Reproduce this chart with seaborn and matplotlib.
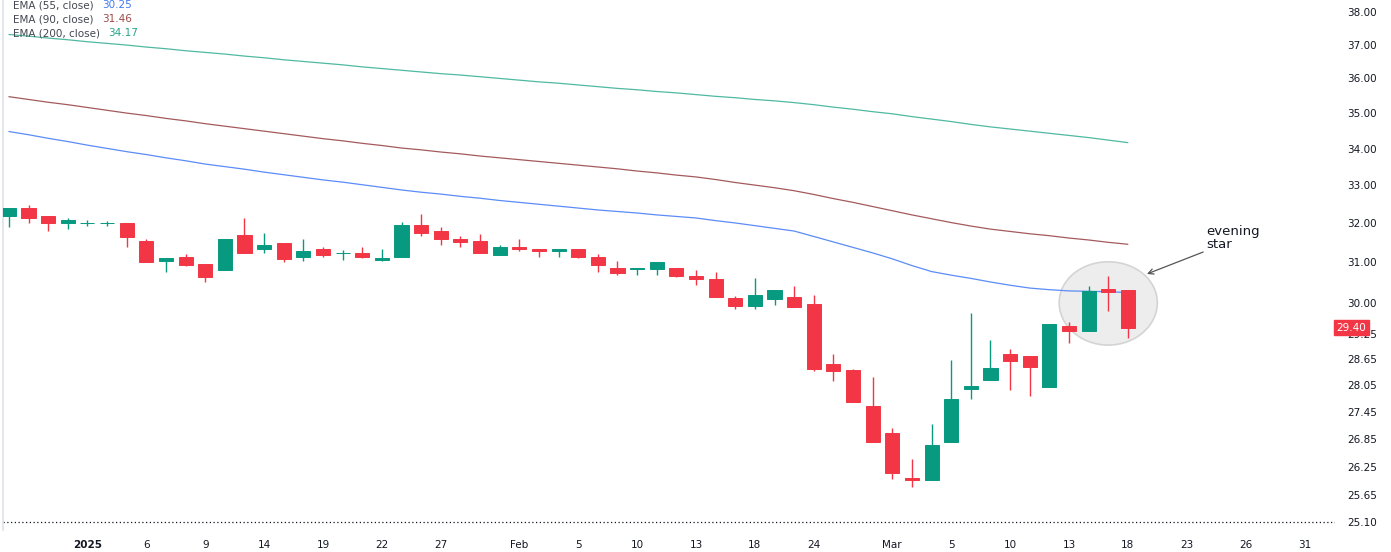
import pandas as pd
import seaborn as sns
import matplotlib.pyplot as plt
from matplotlib.patches import Ellipse
from matplotlib.ticker import FixedLocator, NullLocator, FuncFormatter

# trading days (Sun-Thu market)
dates = ["2024-12-26", "2024-12-29", "2024-12-30", "2024-12-31", "2025-01-01", "2025-01-02",
         "2025-01-05", "2025-01-06", "2025-01-07", "2025-01-08", "2025-01-09",
         "2025-01-12", "2025-01-13", "2025-01-14", "2025-01-15", "2025-01-16",
         "2025-01-19", "2025-01-20", "2025-01-21", "2025-01-22", "2025-01-23",
         "2025-01-26", "2025-01-27", "2025-01-28", "2025-01-29", "2025-01-30",
         "2025-02-02", "2025-02-03", "2025-02-04", "2025-02-05", "2025-02-06",
         "2025-02-09", "2025-02-10", "2025-02-11", "2025-02-12", "2025-02-13",
         "2025-02-16", "2025-02-17", "2025-02-18", "2025-02-19", "2025-02-20",
         "2025-02-24", "2025-02-25", "2025-02-26", "2025-02-27",
         "2025-03-02", "2025-03-03", "2025-03-04", "2025-03-05", "2025-03-06",
         "2025-03-09", "2025-03-10", "2025-03-11", "2025-03-12", "2025-03-13",
         "2025-03-16", "2025-03-17", "2025-03-18"]
future_dates = ["2025-03-19", "2025-03-20", "2025-03-23", "2025-03-24", "2025-03-25",
                "2025-03-26", "2025-03-27", "2025-03-30", "2025-03-31"]

opens = [32.19, 32.40, 32.19, 32.00, 32.00, 32.00, 32.00, 31.55, 31.03, 31.14,
         30.95, 30.80, 31.70, 31.33, 31.50, 31.14, 31.34, 31.24, 31.25, 31.07,
         31.13, 31.96, 31.80, 31.60, 31.55, 31.19, 31.40, 31.34, 31.29, 31.34,
         31.14, 30.85, 30.84, 30.83, 30.85, 30.65, 30.59, 30.12, 29.93, 30.08,
         30.13, 29.98, 28.54, 28.41, 27.59, 26.98, 26.02, 25.97, 26.78, 27.97,
         28.17, 28.78, 28.73, 28.02, 29.44, 29.33, 30.34, 30.30]
highs = [32.41, 32.47, 32.20, 32.14, 32.09, 32.07, 32.00, 31.59, 31.10, 31.20,
         30.96, 31.60, 32.13, 31.74, 31.50, 31.60, 31.38, 31.31, 31.38, 31.33,
         32.03, 32.25, 31.91, 31.66, 31.72, 31.44, 31.60, 31.34, 31.34, 31.34,
         31.20, 31.04, 30.87, 31.00, 30.85, 30.82, 30.76, 30.17, 30.61, 30.30,
         30.40, 30.19, 28.78, 28.43, 28.24, 27.09, 26.43, 27.18, 28.64, 29.75,
         29.10, 28.89, 28.73, 29.48, 29.54, 30.41, 30.65, 30.30]
lows = [31.91, 32.00, 31.80, 31.85, 31.93, 31.92, 31.40, 31.00, 30.75, 30.90,
        30.50, 30.80, 31.23, 31.24, 31.00, 31.04, 31.14, 31.06, 31.10, 31.04,
        31.13, 31.66, 31.45, 31.40, 31.23, 31.19, 31.30, 31.14, 31.14, 31.10,
        30.75, 30.69, 30.69, 30.69, 30.63, 30.43, 30.13, 29.85, 29.85, 29.94,
        29.89, 28.39, 28.14, 27.68, 26.78, 25.99, 25.83, 25.97, 26.78, 27.74,
        28.17, 27.95, 27.80, 28.02, 29.04, 29.33, 29.79, 29.15]
closes = [32.40, 32.13, 32.00, 32.09, 32.01, 32.01, 31.64, 31.00, 31.10, 30.94,
          30.63, 31.60, 31.23, 31.44, 31.08, 31.30, 31.19, 31.25, 31.13, 31.12,
          31.96, 31.74, 31.59, 31.53, 31.23, 31.40, 31.33, 31.29, 31.34, 31.13,
          30.94, 30.74, 30.85, 31.00, 30.67, 30.58, 30.13, 29.93, 30.19, 30.30,
          29.89, 28.42, 28.39, 27.68, 26.78, 26.12, 25.97, 26.72, 27.74, 28.04,
          28.45, 28.62, 28.47, 29.48, 29.33, 30.29, 30.27, 29.40]

ema55 = [34.48, 34.39, 34.29, 34.20, 34.10, 34.01, 33.92, 33.84, 33.75, 33.67,
         33.58, 33.51, 33.44, 33.36, 33.29, 33.22, 33.15, 33.09, 33.02, 32.95,
         32.88, 32.82, 32.77, 32.71, 32.66, 32.60, 32.55, 32.50, 32.45, 32.40,
         32.35, 32.31, 32.27, 32.22, 32.18, 32.14, 32.07, 32.01, 31.94, 31.87,
         31.80, 31.66, 31.52, 31.38, 31.24, 31.09, 30.92, 30.77, 30.68, 30.60,
         30.51, 30.43, 30.36, 30.32, 30.29, 30.28, 30.27, 30.25]
ema90 = [35.47, 35.39, 35.31, 35.24, 35.16, 35.08, 35.00, 34.93, 34.85, 34.78,
         34.70, 34.63, 34.56, 34.49, 34.42, 34.35, 34.28, 34.22, 34.15, 34.09,
         34.02, 33.97, 33.91, 33.86, 33.80, 33.75, 33.70, 33.65, 33.60, 33.55,
         33.50, 33.45, 33.39, 33.34, 33.28, 33.23, 33.16, 33.08, 33.01, 32.94,
         32.86, 32.76, 32.65, 32.55, 32.44, 32.33, 32.22, 32.12, 32.02, 31.93,
         31.85, 31.79, 31.73, 31.68, 31.62, 31.57, 31.51, 31.46]
ema200 = [37.31, 37.26, 37.20, 37.15, 37.09, 37.04, 36.99, 36.93, 36.88, 36.82,
          36.77, 36.72, 36.66, 36.61, 36.55, 36.50, 36.45, 36.40, 36.34, 36.29,
          36.24, 36.19, 36.14, 36.10, 36.05, 36.00, 35.95, 35.90, 35.86, 35.81,
          35.76, 35.71, 35.67, 35.62, 35.58, 35.53, 35.48, 35.44, 35.39, 35.35,
          35.30, 35.24, 35.17, 35.11, 35.04, 34.98, 34.90, 34.83, 34.76, 34.68,
          34.61, 34.55, 34.49, 34.43, 34.37, 34.31, 34.24, 34.17]

tick_dates = ["2025-01-01", "2025-01-06", "2025-01-09", "2025-01-14", "2025-01-19",
              "2025-01-22", "2025-01-27", "2025-02-02", "2025-02-05", "2025-02-10",
              "2025-02-13", "2025-02-18", "2025-02-24", "2025-03-02", "2025-03-05",
              "2025-03-10", "2025-03-13", "2025-03-18", "2025-03-23", "2025-03-26",
              "2025-03-31"]
tick_labels = ["2025", "6", "9", "14", "19", "22", "27", "Feb", "5", "10", "13", "18",
               "24", "Mar", "5", "10", "13", "18", "23", "26", "31"]
price_ticks = [25.10, 25.65, 26.25, 26.85, 27.45, 28.05, 28.65, 29.25,
               30, 31, 32, 33, 34, 35, 36, 37, 38]
dotted_level = 25.10

UP, DOWN = "#089981", "#f23645"
TXT = "#131722"

all_days = dates + future_dates
df = pd.DataFrame({"date": dates, "open": opens, "high": highs, "low": lows,
                   "close": closes, "ema55": ema55, "ema90": ema90, "ema200": ema200})
df["i"] = range(len(df))

sns.set_theme(style="white")
plt.rcParams["font.family"] = ["DejaVu Sans"]

fig = plt.figure(figsize=(13.91, 5.52), dpi=100)
ax = fig.add_axes([3 / 1391, 22 / 552, 1332 / 1391, 530 / 552])

# evening star highlight
ax.add_patch(Ellipse((56, 30.0), width=5.0, height=2.03, facecolor="#ededed",
                     edgecolor="#d4d4d4", lw=1.2, zorder=1))

ema_cols = {"ema55": "#5b8cf7", "ema90": "#a45a5c", "ema200": "#4fb9a1"}
for col, c in ema_cols.items():
    sns.lineplot(data=df, x="i", y=col, ax=ax, color=c, lw=0.9, zorder=2)

colors = [UP if c >= o else DOWN for o, c in zip(df["open"], df["close"])]
body_lo = df[["open", "close"]].min(axis=1)
body_h = (df["open"] - df["close"]).abs()
ax.vlines(df["i"], df["low"], df["high"], colors=colors, lw=1.0, zorder=3)
ax.bar(df["i"], body_h, bottom=body_lo, width=0.72, color=colors,
       edgecolor=colors, linewidth=0.7, zorder=4)

ax.axhline(dotted_level, color=TXT, lw=0.9, linestyle=(0, (1, 2)), zorder=1)

ax.set_yscale("log")
ax.set_ylim(24.94, 38.37)
ax.set_xlim(-0.3, 67.55)
ax.yaxis.set_major_locator(FixedLocator(price_ticks))
ax.yaxis.set_minor_locator(NullLocator())
ax.yaxis.set_major_formatter(FuncFormatter(lambda v, p: f"{v:.2f}"))
ax.yaxis.tick_right()
ax.tick_params(axis="y", length=0, pad=9, labelsize=7.5, labelcolor=TXT)

ax.set_xticks([all_days.index(d) for d in tick_dates])
ax.set_xticklabels(tick_labels)
ax.tick_params(axis="x", length=0, pad=7, labelsize=7.5, labelcolor=TXT)
ax.get_xticklabels()[0].set_fontweight("bold")
ax.set_xlabel("")
ax.set_ylabel("")
for s in ["top", "right", "bottom"]:
    ax.spines[s].set_visible(False)
ax.spines["left"].set_color("#e0e3eb")

# last price badge
ax.text(1.001, closes[-1], f"{closes[-1]:.2f}", transform=ax.get_yaxis_transform(),
        ha="left", va="center", fontsize=7.5, color="white", zorder=6, clip_on=False,
        bbox=dict(boxstyle="square,pad=0.25", facecolor=DOWN, edgecolor=DOWN))

# annotation
ax.annotate("evening\nstar", xy=(57.97, 30.71), xytext=(61.0, 31.95),
            ha="left", va="top", fontsize=9.5, color=TXT, linespacing=0.95,
            arrowprops=dict(arrowstyle="->", color="#555555", lw=0.9,
                            shrinkA=0, shrinkB=0, relpos=(0, 0)))

# indicator legend
legend = [("EMA (55, close)", ema55[-1], "#3f7bf5"),
          ("EMA (90, close)", ema90[-1], "#a04848"),
          ("EMA (200, close)", ema200[-1], "#22a68a")]
for k, (name, val, c) in enumerate(legend):
    t = fig.text(13 / 1391, 1 - (5 + 14 * k) / 552, name, ha="left", va="center",
                 fontsize=7.5, color="#434651")
    fig.canvas.draw()
    ax.annotate(f"{val:.2f}", xy=(1, 0.5), xycoords=t, xytext=(6, 0),
                textcoords="offset points", va="center", fontsize=7.5, color=c)

fig.savefig("out.png", dpi=100, facecolor="white")
